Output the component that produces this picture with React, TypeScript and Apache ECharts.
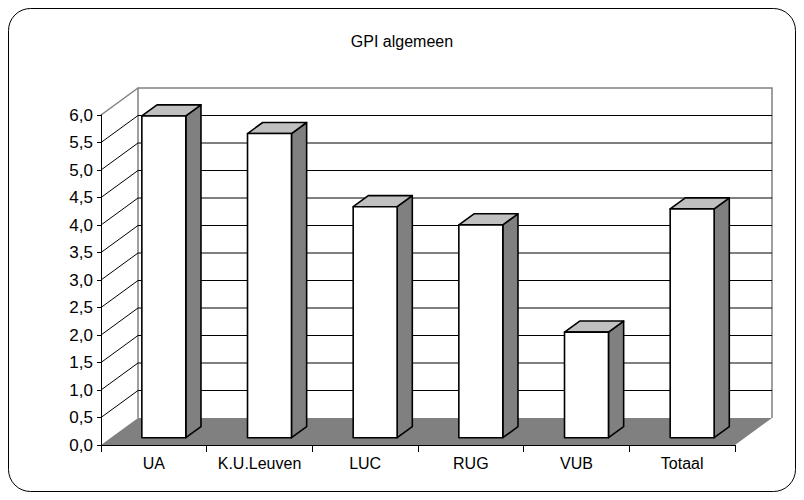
import React, { useEffect, useRef } from "react";
import * as echarts from "echarts";

const categories = ["UA", "K.U.Leuven", "LUC", "RUG", "VUB", "Totaal"];
const gpiValues = [5.85, 5.53, 4.2, 3.87, 1.92, 4.16];
const yMin = 0;
const yMax = 6;
const yStep = 0.5;
const gridValues = [0.5, 1, 1.5, 2, 2.5, 3, 3.5, 4, 4.5, 5, 5.5];
const titleText = "GPI algemeen";

const DX = 37;
const DY = -27;
const BAR_FRONT = 0.27;
const BAR_DEPTH = 0.41;
const BAR_WIDTH = 0.416;
const FONT = "'Liberation Sans', Arial, sans-serif";

export default function App() {
  const ref = useRef<HTMLDivElement>(null);
  useEffect(() => {
    document.body.style.margin = "0";
    if (!ref.current) return;
    const chart = echarts.init(ref.current, undefined, { renderer: "svg" });
    const option: any = {
      animation: false,
      backgroundColor: "#ffffff",
      title: {
        text: titleText,
        left: "center",
        top: 28,
        textStyle: { fontFamily: FONT, fontSize: 16, fontWeight: "normal", color: "#000" },
      },
      graphic: [
        {
          type: "rect",
          shape: { x: 8.5, y: 8.5, width: 787, height: 483, r: 22 },
          style: { fill: "none", stroke: "#000", lineWidth: 1 },
          z: 0,
        },
      ],
      grid: { left: 101, right: 69, top: 115, bottom: 55, containLabel: false },
      xAxis: {
        type: "category",
        data: categories,
        boundaryGap: true,
        axisLine: { show: true, lineStyle: { color: "#000", width: 1 } },
        axisTick: { show: true, length: 7, alignWithLabel: false, lineStyle: { color: "#000" } },
        axisLabel: { color: "#000", fontFamily: FONT, fontSize: 16, margin: 10, interval: 0, hideOverlap: false },
        splitLine: { show: false },
        z: 5,
      },
      yAxis: {
        type: "value",
        min: yMin,
        max: yMax,
        interval: yStep,
        axisLine: { show: true, lineStyle: { color: "#000", width: 1 } },
        axisTick: { show: true, length: 4, lineStyle: { color: "#000" } },
        axisLabel: {
          color: "#000",
          fontFamily: FONT,
          fontSize: 17,
          margin: 8,
          formatter: (v: number) => v.toFixed(1).replace(".", ","),
        },
        splitLine: { show: false },
        z: 5,
      },
      series: [
        {
          type: "custom",
          name: "floor",
          clip: false,
          z: 1,
          data: [[0, yMin]],
          renderItem: (params: any, api: any) => {
            const cs = params.coordSys;
            const L = cs.x;
            const R = cs.x + cs.width;
            const y0 = api.coord([0, yMin])[1];
            const yt = api.coord([0, yMax])[1];
            return {
              type: "group",
              children: [
                {
                  type: "polygon",
                  shape: { points: [[L, y0], [R, y0], [R + DX, y0 + DY], [L + DX, y0 + DY]] },
                  style: { fill: "#808080", stroke: "none" },
                },
                {
                  type: "polyline",
                  shape: {
                    points: [[L + DX, y0 + DY], [L + DX, yt + DY], [R + DX, yt + DY], [R + DX, y0 + DY]],
                  },
                  style: { fill: "none", stroke: "#808080", lineWidth: 1.5 },
                },
                {
                  type: "line",
                  shape: { x1: L, y1: yt, x2: L + DX, y2: yt + DY },
                  style: { stroke: "#808080", lineWidth: 1.5 },
                },
              ],
            };
          },
        },
        {
          type: "custom",
          name: "grid",
          clip: false,
          z: 2,
          data: gridValues.map((v) => [0, v]),
          renderItem: (params: any, api: any) => {
            const cs = params.coordSys;
            const L = cs.x;
            const R = cs.x + cs.width;
            const y = api.coord([0, api.value(1)])[1];
            return {
              type: "group",
              children: [
                {
                  type: "line",
                  shape: { x1: L, y1: y, x2: L + DX, y2: y + DY },
                  style: { stroke: "#000", lineWidth: 1 },
                },
                {
                  type: "line",
                  shape: { x1: L + DX, y1: y + DY, x2: R + DX, y2: y + DY },
                  style: { stroke: "#000", lineWidth: 1 },
                },
              ],
            };
          },
        },
        {
          type: "custom",
          name: "GPI",
          clip: false,
          z: 3,
          data: gpiValues.map((v, i) => [i, v]),
          renderItem: (params: any, api: any) => {
            const i = api.value(0);
            const top = api.coord([i, api.value(1)]);
            const base = api.coord([i, yMin]);
            const bw = api.size([1, 0])[0] * BAR_WIDTH;
            const sx = DX * BAR_FRONT;
            const sy = DY * BAR_FRONT;
            const dx = DX * BAR_DEPTH;
            const dy = DY * BAR_DEPTH;
            const x1 = top[0] - bw / 2 + sx;
            const x2 = x1 + bw;
            const ty = top[1] + sy;
            const by = base[1] + sy;
            const st = { stroke: "#000", lineWidth: 1.6, lineJoin: "round" };
            return {
              type: "group",
              children: [
                {
                  type: "polygon",
                  shape: { points: [[x2, ty], [x2 + dx, ty + dy], [x2 + dx, by + dy], [x2, by]] },
                  style: { fill: "#808080", ...st },
                },
                {
                  type: "polygon",
                  shape: { points: [[x1, ty], [x1 + dx, ty + dy], [x2 + dx, ty + dy], [x2, ty]] },
                  style: { fill: "#c0c0c0", ...st },
                },
                {
                  type: "rect",
                  shape: { x: x1, y: ty, width: bw, height: by - ty },
                  style: { fill: "#ffffff", ...st },
                },
              ],
            };
          },
        },
      ],
    };
    chart.setOption(option);
    return () => chart.dispose();
  }, []);
  return <div ref={ref} style={{ width: 804, height: 500 }} />;
}
